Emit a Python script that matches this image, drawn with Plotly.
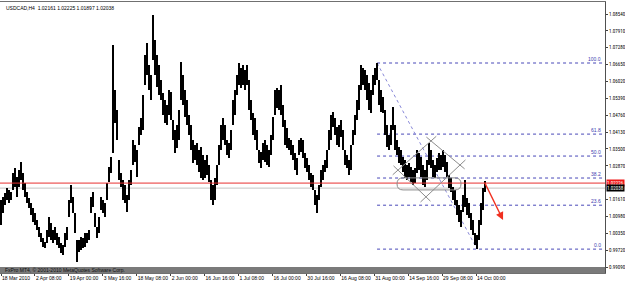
import numpy as np
import plotly.graph_objects as go

# ---------------- data ----------------
title_text = "USDCAD,H4  1.02161 1.02225 1.01897 1.02038"
date_labels = ["18 Mar 2010", "2 Apr 08:00", "19 Apr 00:00", "3 May 16:00", "18 May 08:00",
               "2 Jun 00:00", "16 Jun 16:00", "1 Jul 08:00", "16 Jul 00:00", "30 Jul 16:00",
               "16 Aug 08:00", "31 Aug 00:00", "14 Sep 16:00", "29 Sep 08:00", "14 Oct 00:00"]
# 1.02240 is hidden behind the red line label in the reference
price_ticks = [1.08540, 1.07910, 1.07280, 1.06650, 1.06020, 1.05390, 1.04760, 1.04130,
               1.03500, 1.02870, 1.01610, 1.00980, 1.00350, 0.99720, 0.99090]

# price range of each sampled group of H4 bars
highs = [1.0159, 1.0171, 1.0186, 1.0204, 1.0197, 1.0189, 1.0260, 1.0279, 1.0245, 1.0271,
         1.0301, 1.0260, 1.0223, 1.0189, 1.0167, 1.0148, 1.0130, 1.0111, 1.0085, 1.0059,
         1.0036, 1.0018, 1.0003, 1.0047, 1.0096, 1.0074, 1.0047, 1.0059, 1.0036, 1.0021,
         0.9999, 0.9991, 1.0036, 1.0059, 1.0159, 1.0215, 1.0171, 1.0111, 1.0010, 1.0010,
         1.0021, 1.0018, 1.0036, 1.0036, 1.0047, 1.0171, 1.0189, 1.0111, 1.0059, 1.0096,
         1.0171, 1.0159, 1.0148, 1.0223, 1.0283, 1.0320, 1.0738, 1.0570, 1.0495, 1.0309,
         1.0260, 1.0234, 1.0215, 1.0178, 1.0234, 1.0271, 1.0383, 1.0365, 1.0346, 1.0432,
         1.0466, 1.0552, 1.0701, 1.0746, 1.0664, 1.0626, 1.0850, 1.0757, 1.0701, 1.0664,
         1.0608, 1.0559, 1.0533, 1.0514, 1.0570, 1.0563, 1.0458, 1.0421, 1.0439, 1.0495,
         1.0675, 1.0626, 1.0570, 1.0533, 1.0477, 1.0439, 1.0383, 1.0365, 1.0372, 1.0346,
         1.0357, 1.0327, 1.0309, 1.0327, 1.0290, 1.0234, 1.0215, 1.0242, 1.0290, 1.0365,
         1.0439, 1.0466, 1.0439, 1.0383, 1.0372, 1.0421, 1.0533, 1.0570, 1.0626, 1.0671,
         1.0652, 1.0664, 1.0645, 1.0664, 1.0608, 1.0533, 1.0484, 1.0466, 1.0421, 1.0346,
         1.0339, 1.0372, 1.0383, 1.0365, 1.0346, 1.0402, 1.0469, 1.0570, 1.0578, 1.0570,
         1.0589, 1.0514, 1.0458, 1.0428, 1.0391, 1.0383, 1.0365, 1.0335, 1.0316, 1.0383,
         1.0391, 1.0383, 1.0335, 1.0316, 1.0290, 1.0260, 1.0253, 1.0197, 1.0178, 1.0215,
         1.0271, 1.0290, 1.0309, 1.0346, 1.0421, 1.0477, 1.0488, 1.0466, 1.0432, 1.0439,
         1.0458, 1.0421, 1.0346, 1.0327, 1.0309, 1.0365, 1.0421, 1.0477, 1.0533, 1.0589,
         1.0664, 1.0652, 1.0645, 1.0626, 1.0596, 1.0570, 1.0626, 1.0652, 1.0671, 1.0608,
         1.0570, 1.0544, 1.0495, 1.0439, 1.0402, 1.0439, 1.0507, 1.0439, 1.0383, 1.0357,
         1.0346, 1.0320, 1.0309, 1.0290, 1.0298, 1.0283, 1.0271, 1.0279, 1.0346, 1.0335,
         1.0320, 1.0290, 1.0271, 1.0309, 1.0372, 1.0346, 1.0309, 1.0290, 1.0316, 1.0335,
         1.0327, 1.0346, 1.0327, 1.0301, 1.0253, 1.0242, 1.0208, 1.0197, 1.0159, 1.0141,
         1.0122, 1.0178, 1.0234, 1.0167, 1.0148, 1.0111, 1.0085, 1.0036, 1.0029, 1.0085,
         1.0148, 1.0204, 1.0230]
lows = [1.0066, 1.0111, 1.0141, 1.0159, 1.0148, 1.0159, 1.0197, 1.0208, 1.0171, 1.0208,
        1.0234, 1.0197, 1.0171, 1.0148, 1.0130, 1.0103, 1.0077, 1.0066, 1.0047, 1.0021,
        1.0003, 0.9984, 0.9980, 0.9999, 1.0021, 1.0010, 0.9999, 1.0010, 0.9991, 0.9980,
        0.9961, 0.9954, 0.9984, 1.0010, 1.0096, 1.0148, 1.0111, 1.0036, 0.9928, 0.9965,
        0.9973, 0.9980, 0.9984, 0.9999, 1.0010, 1.0111, 1.0133, 1.0059, 1.0018, 1.0036,
        1.0122, 1.0111, 1.0096, 1.0159, 1.0227, 1.0260, 1.0335, 1.0447, 1.0383, 1.0234,
        1.0208, 1.0159, 1.0148, 1.0115, 1.0159, 1.0215, 1.0290, 1.0301, 1.0245, 1.0365,
        1.0402, 1.0421, 1.0589, 1.0626, 1.0570, 1.0533, 1.0682, 1.0626, 1.0581, 1.0552,
        1.0533, 1.0477, 1.0447, 1.0439, 1.0477, 1.0458, 1.0383, 1.0335, 1.0354, 1.0383,
        1.0533, 1.0514, 1.0469, 1.0439, 1.0402, 1.0346, 1.0298, 1.0309, 1.0290, 1.0264,
        1.0242, 1.0234, 1.0242, 1.0253, 1.0227, 1.0159, 1.0141, 1.0159, 1.0215, 1.0290,
        1.0346, 1.0383, 1.0365, 1.0327, 1.0316, 1.0346, 1.0439, 1.0477, 1.0552, 1.0589,
        1.0578, 1.0589, 1.0570, 1.0589, 1.0495, 1.0458, 1.0402, 1.0383, 1.0346, 1.0298,
        1.0279, 1.0309, 1.0301, 1.0290, 1.0283, 1.0327, 1.0383, 1.0477, 1.0503, 1.0495,
        1.0477, 1.0432, 1.0365, 1.0354, 1.0346, 1.0327, 1.0309, 1.0271, 1.0253, 1.0327,
        1.0339, 1.0316, 1.0279, 1.0264, 1.0234, 1.0208, 1.0197, 1.0141, 1.0111, 1.0159,
        1.0208, 1.0234, 1.0264, 1.0279, 1.0346, 1.0383, 1.0432, 1.0402, 1.0365, 1.0357,
        1.0395, 1.0346, 1.0290, 1.0279, 1.0253, 1.0271, 1.0365, 1.0402, 1.0458, 1.0495,
        1.0570, 1.0589, 1.0570, 1.0533, 1.0495, 1.0484, 1.0552, 1.0589, 1.0608, 1.0514,
        1.0488, 1.0484, 1.0402, 1.0357, 1.0346, 1.0365, 1.0421, 1.0346, 1.0327, 1.0298,
        1.0290, 1.0264, 1.0242, 1.0234, 1.0245, 1.0227, 1.0215, 1.0223, 1.0260, 1.0271,
        1.0245, 1.0215, 1.0208, 1.0234, 1.0290, 1.0279, 1.0245, 1.0242, 1.0264, 1.0271,
        1.0271, 1.0283, 1.0264, 1.0245, 1.0204, 1.0189, 1.0159, 1.0141, 1.0103, 1.0077,
        1.0059, 1.0115, 1.0133, 1.0103, 1.0092, 1.0047, 1.0029, 0.9991, 0.9976, 1.0010,
        1.0066, 1.0122, 1.0189]

hline_price = 1.02226
bid_price = 1.02038
fib_ratios = [1.0, 0.618, 0.5, 0.382, 0.236, 0.0]
fib_labels = ["100.0", "61.8", "50.0", "38.2", "23.6", "0.0"]
# drawn objects (bar index, price)
diamond_bars = [748.8, 811.1, 865.8, 801.6]        # left, top, right, bottom
diamond_prices = [1.0271, 1.0380, 1.0290, 1.0171]
box_bars = [747.0, 867.7]
box_prices = [1.0197, 1.0242]
arrow_from = (911.0, 1.0230)
arrow_to = (947.0, 1.0085)

# ---------------- layout constants ----------------
BARS_PER_LABEL = 64
SAMPLE_BARS = 3.773
X_RANGE = [-1.886, 1139.3]
Y_RANGE = [0.98868, 1.08988]
PLOT_H = 271
FONT = "Liberation Sans"
NARROW = "Liberation Sans Narrow, Roboto Condensed, Liberation Sans"

n = len(highs)
xs = np.arange(n) * SAMPLE_BARS
hi = np.array(highs)
lo = np.array(lows)

fig = go.Figure()
fig.add_trace(go.Bar(x=xs, y=hi - lo, base=lo, width=SAMPLE_BARS * 0.8,
                     marker=dict(color="black", line=dict(width=0)),
                     hoverinfo="skip", showlegend=False))

shapes = []
i_hi = int(np.argmax(hi[150:])) + 150
i_lo = int(np.argmin(lo[150:])) + 150
f_hi, f_lo = hi[i_hi], lo[i_lo]
x_hi, x_lo = xs[i_hi], xs[i_lo]
annotations = []
for r, lab in zip(fib_ratios, fib_labels):
    lvl = f_lo + r * (f_hi - f_lo)
    shapes.append(dict(type="line", xref="x", yref="y", x0=x_hi, x1=X_RANGE[1], y0=lvl, y1=lvl,
                       line=dict(color="#4848b8", width=1, dash="dot"), layer="below"))
    annotations.append(dict(x=1, xref="paper", y=lvl, yref="y", xanchor="right", yanchor="bottom",
                            xshift=-2, yshift=-1, text=lab, showarrow=False,
                            font=dict(size=5, color="#4040b0", family=FONT)))
shapes.append(dict(type="line", xref="x", yref="y", x0=x_hi, y0=f_hi, x1=x_lo, y1=f_lo,
                   line=dict(color="#8888d8", width=1, dash="dot"), layer="below"))

shapes.append(dict(type="line", xref="paper", yref="y", x0=0, x1=1, y0=bid_price, y1=bid_price,
                   line=dict(color="#c4c4c4", width=1), layer="below"))
shapes.append(dict(type="line", xref="paper", yref="y", x0=0, x1=1, y0=hline_price, y1=hline_price,
                   line=dict(color="#e83030", width=1), layer="above"))

ext = 0.16
for a, b in [(0, 1), (1, 2), (2, 3), (3, 0)]:
    xa, ya = diamond_bars[a], diamond_prices[a]
    xb, yb = diamond_bars[b], diamond_prices[b]
    dx, dy = xb - xa, yb - ya
    shapes.append(dict(type="line", xref="x", yref="y",
                       x0=xa - ext * dx, y0=ya - ext * dy, x1=xb + ext * dx, y1=yb + ext * dy,
                       line=dict(color="#8c8c8c", width=1), layer="above"))

bx0, bx1 = box_bars
by0, by1 = box_prices
rx = (by1 - by0) / 2 / (Y_RANGE[1] - Y_RANGE[0]) * PLOT_H / 605 * (X_RANGE[1] - X_RANGE[0])
ym = (by0 + by1) / 2
path = (f"M {bx0 + rx},{by1} L {bx1 - rx},{by1} Q {bx1},{by1} {bx1},{ym} Q {bx1},{by0} {bx1 - rx},{by0} "
        f"L {bx0 + rx},{by0} Q {bx0},{by0} {bx0},{ym} Q {bx0},{by1} {bx0 + rx},{by1} Z")
shapes.append(dict(type="path", xref="x", yref="y", path=path,
                   line=dict(color="#8c8c8c", width=1), layer="above"))

shapes.append(dict(type="rect", xref="paper", yref="paper", x0=0, x1=1, y0=0, y1=6 / PLOT_H,
                   fillcolor="#7a7a7a", line=dict(width=0), layer="above"))

annotations += [
    dict(x=0, xref="paper", y=1, yref="paper", xanchor="left", yanchor="top", xshift=4, yshift=-1,
         text=title_text, showarrow=False, font=dict(size=5, color="black", family=FONT)),
    dict(x=0, xref="paper", y=3 / PLOT_H, yref="paper", xanchor="left", yanchor="middle", xshift=3,
         text="FxPro MT4, © 2001-2010 MetaQuotes Software Corp.", showarrow=False,
         font=dict(size=5, color="#111111", family=FONT)),
    dict(x=1, xref="paper", y=hline_price, yref="y", xanchor="left", yanchor="middle", xshift=1,
         text="1.02226", showarrow=False, bgcolor="#f01818", borderpad=0,
         font=dict(size=5, color="white", family=NARROW)),
    dict(x=1, xref="paper", y=bid_price, yref="y", xanchor="left", yanchor="middle", xshift=1,
         text="1.02038", showarrow=False, bgcolor="black", borderpad=0,
         font=dict(size=5, color="white", family=NARROW)),
    dict(x=arrow_to[0], y=arrow_to[1], xref="x", yref="y", ax=arrow_from[0], ay=arrow_from[1],
         axref="x", ayref="y", text="", showarrow=True, arrowhead=2, arrowsize=1.2,
         arrowwidth=1.3, arrowcolor="#f03020"),
]

fig.update_layout(
    width=625, height=283,
    margin=dict(l=0, r=20, t=2, b=10, autoexpand=False),
    plot_bgcolor="white", paper_bgcolor="white",
    shapes=shapes, annotations=annotations,
    bargap=0, showlegend=False,
    font=dict(family=FONT, size=5, color="black"),
    xaxis=dict(range=X_RANGE, tickvals=[k * BARS_PER_LABEL for k in range(len(date_labels))],
               ticktext=date_labels, ticks="outside", ticklen=2, tickcolor="#404040",
               tickangle=0, automargin=False,
               ticklabelposition="outside right", tickfont=dict(size=5, family=FONT),
               showgrid=False, zeroline=False, showline=True, mirror=True,
               linecolor="#707070", linewidth=1),
    yaxis=dict(range=Y_RANGE, side="right", tickvals=price_ticks, automargin=False,
               ticktext=[f"{v:.5f}" for v in price_ticks], ticks="outside", ticklen=2,
               tickcolor="#404040", tickfont=dict(size=5, family=NARROW),
               showgrid=False, zeroline=False, showline=True, mirror=True,
               linecolor="#505050", linewidth=1),
)

fig.write_html("out.html")
